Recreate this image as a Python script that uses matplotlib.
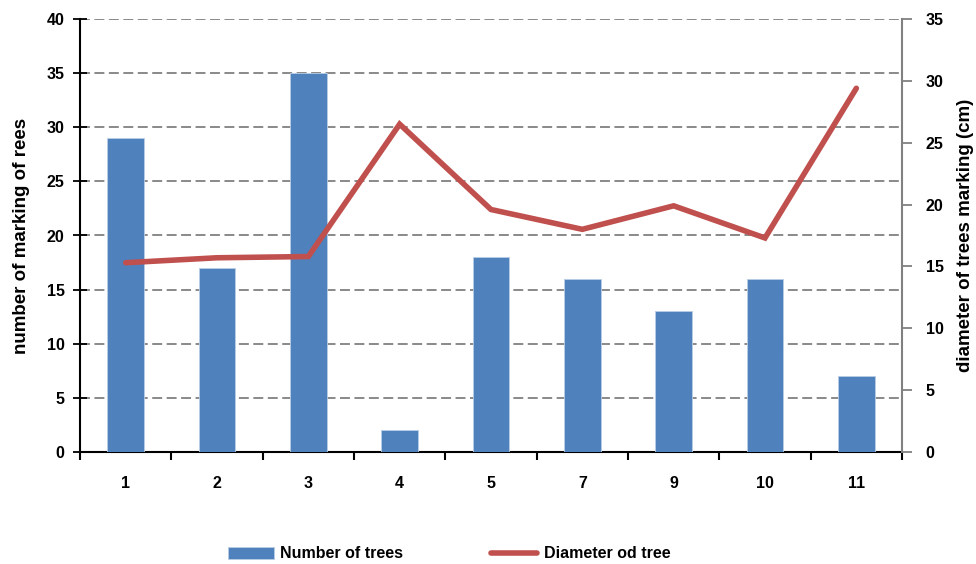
import numpy as np
import matplotlib.pyplot as plt
from matplotlib.ticker import MultipleLocator, FixedLocator

plt.rcParams['font.family'] = ['Liberation Sans', 'DejaVu Sans']
plt.rcParams['font.weight'] = 'bold'

categories = ['1', '2', '3', '4', '5', '7', '9', '10', '11']
tree_counts = [29, 17, 35, 2, 18, 16, 13, 16, 7]
diameters = [15.3, 15.7, 15.8, 26.5, 19.6, 18.0, 19.9, 17.3, 29.4]

bar_color = '#4F81BD'
line_color = '#C0504D'
fs = 11.5
label_fs = 13.5

fig = plt.figure(figsize=(9.76, 5.64), dpi=100)
ax = fig.add_axes([80 / 976, 1 - 452 / 564, 822 / 976, 433 / 564])
x = np.arange(len(categories))

ax.bar(x, tree_counts, width=0.4, color=bar_color, edgecolor='#B9CDE5',
       linewidth=0.6, zorder=3, label='Number of trees')
ax.set_xlim(-0.5, len(categories) - 0.5)
ax.set_ylim(0, 40)
ax.yaxis.set_major_locator(MultipleLocator(5))
ax.yaxis.grid(True, linestyle=(0, (5.5, 2.5)), color='#808080', linewidth=1.3, zorder=0)
ax.set_axisbelow(True)

ax.set_xticks(x)
ax.set_xticklabels(categories, fontsize=fs, fontweight='bold')
ax.xaxis.set_minor_locator(FixedLocator(np.arange(-0.5, len(categories), 1)))
ax.tick_params(axis='x', which='major', length=0, pad=17)
ax.tick_params(axis='x', which='minor', length=6, width=1.5, direction='out')
ax.tick_params(axis='y', length=10, width=1.3, direction='inout', labelsize=fs, pad=6)
for lbl in ax.get_yticklabels():
    lbl.set_fontweight('bold')
ax.set_ylabel('number of marking of rees', fontsize=label_fs, fontweight='bold', labelpad=12)

for side in ['top', 'right']:
    ax.spines[side].set_visible(False)
ax.spines['left'].set_linewidth(1.5)
ax.spines['bottom'].set_linewidth(1.5)

ax2 = ax.twinx()
ax2.plot(x, diameters, color=line_color, linewidth=4, solid_capstyle='round',
         solid_joinstyle='miter', zorder=4, label='Diameter od tree')
ax2.set_ylim(0, 35)
ax2.yaxis.set_major_locator(MultipleLocator(5))
ax2.tick_params(axis='y', length=7, width=1.3, color='#808080', labelsize=fs, pad=10)
for lbl in ax2.get_yticklabels():
    lbl.set_fontweight('bold')
ax2.set_ylabel('diameter of trees marking (cm)', fontsize=label_fs, fontweight='bold', labelpad=10)
for side in ['top', 'left', 'bottom']:
    ax2.spines[side].set_visible(False)
ax2.spines['right'].set_color('#808080')
ax2.spines['right'].set_linewidth(1.5)

h1, l1 = ax.get_legend_handles_labels()
h2, l2 = ax2.get_legend_handles_labels()
fig.legend(h1 + h2, l1 + l2, loc='center', bbox_to_anchor=(449 / 976, 1 - 554 / 564),
           ncol=2, frameon=False, prop={'weight': 'bold', 'size': fs},
           columnspacing=5.5, handlelength=2.9, handletextpad=0.4)

fig.savefig('out.png', dpi=100)
